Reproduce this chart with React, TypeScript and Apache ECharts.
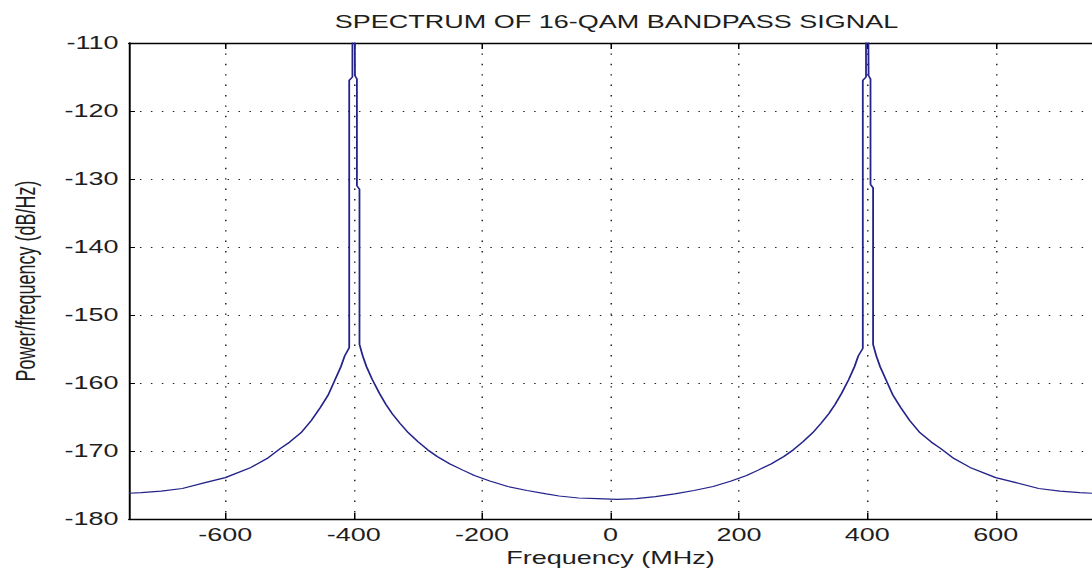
import React, { useEffect, useRef } from 'react';
import * as echarts from 'echarts';

// Frequency (MHz) and power spectral density (dB/Hz)
const freqMHz = [
  -750, -731, -700, -667, -630, -600, -560, -535, -514, -500, -482, -466, -452, -440, -429, -420, -414,
  -407, -407, -402, -402, -401.5, -398.5, -398, -395, -395, -391, -391,
  -386, -380, -371, -360, -350, -340, -328, -315, -300, -285, -270, -250, -230, -212, -188, -160, -130, -100, -80,
  -50, -20, 10, 40, 70, 100, 130, 160, 188, 212, 230, 250, 270, 285, 300, 315, 328, 340, 350, 360, 371, 380, 386,
  393, 393, 398, 398, 398.5, 401.5, 402, 405, 405, 409, 409,
  414, 420, 429, 440, 452, 466, 482, 500, 514, 535, 560, 600, 630, 667, 700, 731, 750,
];
const powerDb = [
  -176.2, -176.1, -175.9, -175.5, -174.6, -173.9, -172.4, -171.1, -169.6, -168.7, -167.3, -165.5, -163.6, -161.8, -159.5, -157.6, -156.0,
  -154.8, -115.5, -115.0, -110.5, -106.0, -106.0, -114.8, -115.3, -131.0, -131.5, -154.3,
  -156.0, -157.6, -159.5, -161.5, -163.1, -164.5, -165.9, -167.3, -168.6, -169.8, -170.8, -171.9, -172.8, -173.6, -174.4, -175.2, -175.8, -176.3, -176.6,
  -176.9, -177.0, -177.1, -177.0, -176.7, -176.3, -175.8, -175.2, -174.4, -173.6, -172.8, -171.9, -170.8, -169.8, -168.6, -167.3, -165.9, -164.5, -163.1, -161.5, -159.5, -157.6, -156.0,
  -154.9, -115.5, -115.0, -110.5, -106.0, -106.0, -114.8, -115.3, -130.8, -131.3, -154.3,
  -156.0, -157.6, -159.5, -161.8, -163.6, -165.5, -167.3, -168.7, -169.6, -171.1, -172.4, -173.9, -174.6, -175.5, -175.9, -176.1, -176.2,
];
const xTicks = [-600, -400, -200, 0, 200, 400, 600];
const yTicks = [-180, -170, -160, -150, -140, -130, -120, -110];

const TITLE = 'SPECTRUM OF 16-QAM BANDPASS SIGNAL';
const X_NAME = 'Frequency (MHz)';
const Y_NAME = 'Power/frequency (dB/Hz)';

const STRETCH = 1.5;
const W = 1092 / STRETCH;
const H = 572;
const FONT = "'Liberation Sans', Arial, sans-serif";
const TEXT = '#1e1e1e';

export default function App() {
  const ref = useRef<HTMLDivElement>(null);
  useEffect(() => {
    const chart = echarts.init(ref.current!, null, { renderer: 'svg', width: W, height: H });
    chart.setOption({
      animation: false,
      backgroundColor: '#ffffff',
      graphic: [
        {
          type: 'text',
          x: 411,
          y: 22,
          style: {
            text: TITLE,
            font: `18px ${FONT}`,
            fill: TEXT,
            textAlign: 'center',
            textVerticalAlign: 'middle',
          },
        },
      ],
      grid: { left: 82, right: -8, top: 43, bottom: 52 },
      xAxis: [
        {
          type: 'value',
          min: -750,
          max: 750,
          position: 'bottom',
          name: X_NAME,
          nameLocation: 'middle',
          nameGap: 27,
          nameTextStyle: { fontFamily: FONT, fontSize: 18, color: TEXT },
          axisLine: { onZero: false, lineStyle: { color: '#000', width: 1.3 } },
          axisTick: { inside: true, length: 6, customValues: xTicks, lineStyle: { color: '#000', width: 1 } },
          axisLabel: { customValues: xTicks, fontFamily: FONT, fontSize: 18, color: TEXT, margin: 7 },
          splitLine: { show: true, lineStyle: { color: '#222', width: 1, type: [1.4, 9] } },
        },
        {
          type: 'value',
          min: -750,
          max: 750,
          position: 'top',
          axisLine: { onZero: false, lineStyle: { color: '#000', width: 1.3 } },
          axisTick: { inside: true, length: 6, customValues: xTicks, lineStyle: { color: '#000', width: 1 } },
          axisLabel: { show: false },
          splitLine: { show: false },
        },
      ],
      yAxis: [
        {
          type: 'value',
          min: -180,
          max: -110,
          interval: 10,
          position: 'left',
          name: Y_NAME,
          nameLocation: 'middle',
          nameRotate: 90,
          nameGap: 60,
          nameTextStyle: { fontFamily: FONT, fontSize: 18, color: TEXT },
          axisLine: { show: true, onZero: false, lineStyle: { color: '#000', width: 1.3 } },
          axisTick: { show: true, inside: true, length: 4, lineStyle: { color: '#000', width: 1 } },
          axisLabel: {
            fontFamily: FONT,
            fontSize: 18,
            color: TEXT,
            margin: 7,
            formatter: (v: number) => (yTicks.includes(v) ? String(v) : ''),
          },
          splitLine: { show: true, lineStyle: { color: '#222', width: 1, type: [1, 6.3] } },
        },
      ],
      series: [
        {
          type: 'line',
          xAxisIndex: 0,
          yAxisIndex: 0,
          data: freqMHz.map((f, i) => [f, powerDb[i]]),
          showSymbol: false,
          clip: true,
          lineStyle: { color: '#23238a', width: 1.2 },
        },
      ],
    });
    return () => chart.dispose();
  }, []);
  return (
    <div
      style={{
        position: 'fixed',
        left: 0,
        top: 0,
        width: 1092,
        height: 572,
        overflow: 'hidden',
        background: '#ffffff',
      }}
    >
      <div
        ref={ref}
        style={{ width: W, height: H, transform: `scaleX(${STRETCH})`, transformOrigin: '0 0' }}
      />
    </div>
  );
}
